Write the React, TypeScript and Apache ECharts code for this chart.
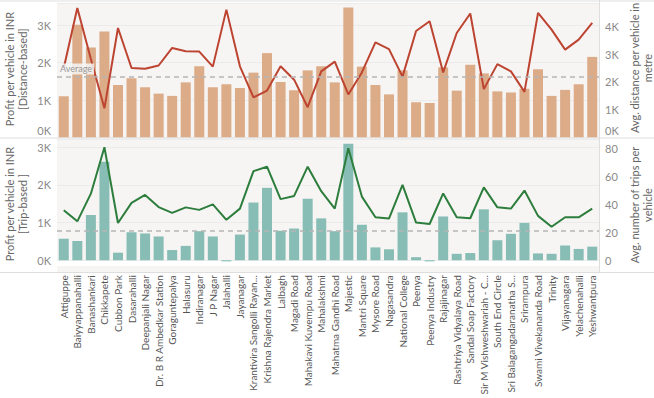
import React, { useEffect, useRef } from "react";
import * as echarts from "echarts";

const categories = [
  "Attiguppe", "Baiyyappanahalli", "Banashankari", "Chikkapete", "Cubbon Park",
  "Dasarahalli", "Deepanjali Nagar", "Dr. B R Ambedkar Station", "Goraguntepalya", "Halasuru",
  "Indiranagar", "J P Nagar", "Jalahalli", "Jayanagar", "Krantivira Sangolli Rayan...",
  "Krishna Rajendra Market", "Lalbagh", "Magadi Road", "Mahakavi Kuvempu Road", "Mahalakshmi",
  "Mahatma Gandhi Road", "Majestic", "Mantri Square", "Mysore Road", "Nagasandra",
  "National College", "Peenya", "Peenya Industry", "Rajajinagar", "Rashtriya Vidyalaya Road",
  "Sandal Soap Factory", "Sir M Vishweshwariah - C...", "South End Circle", "Sri Balagangadaranatha S...", "Srirampura",
  "Swami Vivekananda Road", "Trinity", "Vijayanagara", "Yelachenahalli", "Yeshwantpura",
];

// Profit per vehicle (distance-based), INR
const profitDistance = [
  1100, 3010, 2400, 2830, 1400, 1580, 1340, 1170, 1110, 1470,
  1900, 1340, 1420, 1320, 1730, 2250, 1480, 1260, 1790, 1900,
  1470, 3470, 1890, 1400, 1150, 1790, 940, 920, 1870, 1250,
  1940, 1710, 1230, 1200, 1300, 1820, 1110, 1270, 1420, 2150,
];

// Avg distance per vehicle, metre
const avgDistance = [
  2500, 4660, 2820, 1050, 3940, 2500, 2470, 2590, 3220, 3100,
  3090, 2550, 4600, 2560, 1440, 1690, 2560, 2080, 1090, 2380,
  2730, 1550, 2340, 3420, 3180, 2190, 3830, 4180, 2340, 3760,
  4460, 1740, 2640, 2380, 1640, 4480, 3880, 3160, 3520, 4120,
];

// Profit per vehicle (trip-based), INR
const profitTrip = [
  570, 510, 1200, 2610, 200, 740, 710, 630, 270, 380,
  770, 630, -30, 680, 1530, 1920, 780, 840, 1630, 1110,
  770, 3090, 940, 340, 290, 1270, 80, -30, 1160, 170,
  190, 1350, 530, 700, 990, 180, 170, 390, 300, 360,
];

// Avg number of trips per vehicle
const avgTrips = [
  35.8, 27.8, 47.6, 80.8, 26.6, 41.0, 46.7, 38.0, 33.9, 37.8,
  36.0, 39.9, 28.9, 36.9, 63.7, 66.9, 43.7, 46.0, 66.9, 49.4,
  36.9, 80.1, 45.5, 30.7, 29.8, 53.9, 26.9, 25.9, 47.8, 30.7,
  30.0, 52.1, 37.8, 36.9, 49.8, 31.7, 23.9, 30.7, 30.7, 36.9,
];

const FONT = "Lato";

export default function App() {
  const ref = useRef<HTMLDivElement>(null);
  useEffect(() => {
    if (!ref.current) return;
    const chart = echarts.init(ref.current, null, { renderer: "svg" });
    const kFmtTop = (v: number) => (v === 0 ? `{z|0K}` : `${Math.round(v / 1000)}K`);
    const kFmt = (v: number) => `${Math.round(v / 1000)}K`;
    const axisLabelStyle = { color: "#8a8a8a", fontSize: 11, fontFamily: FONT, showMaxLabel: false };
    const rich = { z: { color: "#8a8a8a", fontSize: 11, fontFamily: FONT, padding: [0, 0, 14, 0] } };
    const split = { show: true, lineStyle: { color: "#ebebeb", width: 1 } };
    const titleStyle = { fill: "#666", fontSize: 11, fontFamily: FONT, textAlign: "center", textVerticalAlign: "middle", lineHeight: 13 } as any;
    chart.setOption({
      animation: false,
      textStyle: { fontFamily: FONT },
      grid: [
        { left: 57, right: 55, top: 3, height: 134.5, show: true, backgroundColor: "#f6f5f4", borderWidth: 0 },
        { left: 57, right: 55, top: 139, height: 127, show: true, backgroundColor: "#f6f5f4", borderWidth: 0 },
      ],
      xAxis: [
        {
          type: "category", gridIndex: 0, data: categories,
          axisLine: { show: false }, axisTick: { show: false }, axisLabel: { show: false },
        },
        {
          type: "category", gridIndex: 1, data: categories,
          axisLine: { show: false }, axisTick: { show: false },
          axisLabel: { interval: 0, rotate: 90, margin: 15, color: "#555", fontSize: 10, fontFamily: FONT },
        },
      ],
      yAxis: [
        {
          type: "value", gridIndex: 0, min: 0, max: 3587, interval: 1000,
          axisLine: { show: false }, axisTick: { show: false },
          axisLabel: { ...axisLabelStyle, formatter: kFmtTop, rich, margin: 6 }, splitLine: split,
        },
        {
          type: "value", gridIndex: 0, position: "right", min: 0, max: 4838, interval: 1000,
          axisLine: { show: false }, axisTick: { show: false },
          axisLabel: { ...axisLabelStyle, formatter: kFmtTop, rich, margin: 6 }, splitLine: { show: false },
        },
        {
          type: "value", gridIndex: 1, min: 0, max: 3215, interval: 1000,
          axisLine: { show: false }, axisTick: { show: false },
          axisLabel: { ...axisLabelStyle, formatter: kFmt, margin: 6 }, splitLine: split,
        },
        {
          type: "value", gridIndex: 1, position: "right", min: 0, max: 86.7, interval: 20,
          axisLine: { show: false }, axisTick: { show: false },
          axisLabel: { ...axisLabelStyle, margin: 6 }, splitLine: { show: false },
        },
      ],
      series: [
        {
          type: "bar", xAxisIndex: 0, yAxisIndex: 0, data: profitDistance, barWidth: 10,
          itemStyle: { color: "#dcab87" }, z: 2,
          markLine: {
            silent: true, symbol: "none",
            lineStyle: { color: "#b5b5b5", type: [5, 4], width: 1.5 },
            label: {
              show: true, position: "insideStartTop", formatter: "Average", color: "#999",
              fontSize: 9, fontFamily: FONT, backgroundColor: "rgba(246,245,244,0.85)", padding: [1, 2], distance: [1, 2],
            },
            data: [{ type: "average" }],
          },
        },
        {
          type: "line", xAxisIndex: 0, yAxisIndex: 1, data: avgDistance, symbol: "none",
          lineStyle: { color: "#bd4430", width: 2 }, itemStyle: { color: "#bd4430" }, z: 3,
        },
        {
          type: "bar", xAxisIndex: 1, yAxisIndex: 2, data: profitTrip, barWidth: 10, clip: false,
          itemStyle: { color: "#87bdb5" }, z: 2,
          markLine: {
            silent: true, symbol: "none",
            lineStyle: { color: "#b5b5b5", type: [5, 4], width: 1.5 },
            label: { show: false },
            data: [{ type: "average" }],
          },
        },
        {
          type: "line", xAxisIndex: 1, yAxisIndex: 3, data: avgTrips, symbol: "none",
          lineStyle: { color: "#2d7d3c", width: 2 }, itemStyle: { color: "#2d7d3c" }, z: 3,
        },
      ],
      graphic: [
        { type: "rect", z: 0, shape: { x: 57, y: 266, width: 542, height: 6 }, style: { fill: "#f6f5f4" } },
        { type: "line", z: 10, shape: { x1: 0, y1: 1, x2: 654, y2: 1 }, style: { stroke: "#dedede", lineWidth: 1 } },
        { type: "line", z: 10, shape: { x1: 0, y1: 138, x2: 654, y2: 138 }, style: { stroke: "#dedede", lineWidth: 1 } },
        { type: "line", z: 10, shape: { x1: 0, y1: 272.5, x2: 654, y2: 272.5 }, style: { stroke: "#dedede", lineWidth: 1 } },
        { type: "line", z: 10, shape: { x1: 599.5, y1: 0, x2: 599.5, y2: 272 }, style: { stroke: "#dedede", lineWidth: 1 } },
        { type: "text", x: 16, y: 69, rotation: Math.PI / 2, style: { ...titleStyle, text: "Profit per vehicle in INR\n[Distance-based]" } },
        { type: "text", x: 16, y: 204, rotation: Math.PI / 2, style: { ...titleStyle, text: "Profit per vehicle in INR\n[Trip-based ]" } },
        { type: "text", x: 641, y: 68, rotation: Math.PI / 2, style: { ...titleStyle, text: "Avg. distance per vehicle in\nmetre" } },
        { type: "text", x: 641, y: 205, rotation: Math.PI / 2, style: { ...titleStyle, text: "Avg. number of trips per\nvehicle" } },
      ],
    });
    return () => chart.dispose();
  }, []);
  return <div ref={ref} style={{ width: 654, height: 398, position: "absolute", left: 0, top: 0 }} />;
}
